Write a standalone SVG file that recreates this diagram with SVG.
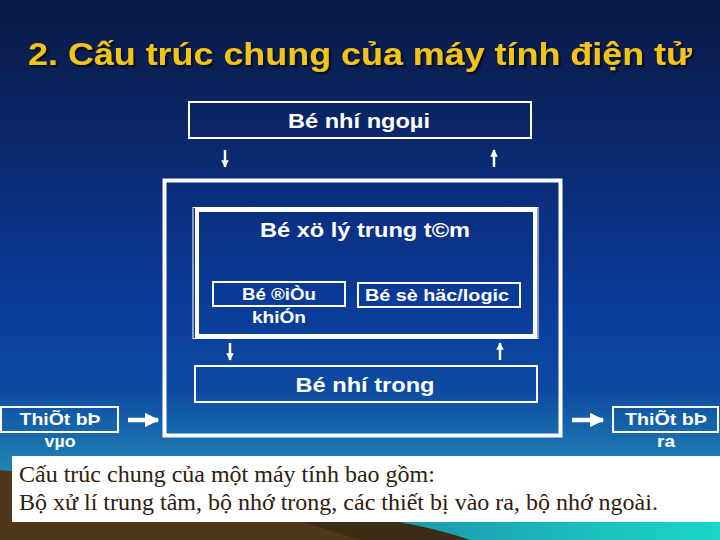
<svg xmlns="http://www.w3.org/2000/svg" width="720" height="540" viewBox="0 0 720 540">
<defs>
<linearGradient id="bg" x1="0" y1="0" x2="0" y2="1">
<stop offset="0" stop-color="#0a1a44"/>
<stop offset="0.3" stop-color="#0b2a72"/>
<stop offset="0.55" stop-color="#0a3a98"/>
<stop offset="0.72" stop-color="#0d4aa2"/>
<stop offset="0.82" stop-color="#1a6fae"/>
<stop offset="0.9" stop-color="#2590b5"/>
<stop offset="1" stop-color="#2aa8b8"/>
</linearGradient>
<linearGradient id="teal" x1="0" y1="0" x2="1" y2="0">
<stop offset="0" stop-color="#1c8aa8"/>
<stop offset="1" stop-color="#19d8c8"/>
</linearGradient>
<filter id="sh" x="-5%" y="-20%" width="110%" height="140%">
<feDropShadow dx="2" dy="2" stdDeviation="0.8" flood-color="#000" flood-opacity="0.7"/>
</filter>
<marker id="ah" viewBox="0 0 10 10" refX="9" refY="5" markerWidth="3" markerHeight="3" orient="auto">
<path d="M0,0 L10,5 L0,10 Z" fill="#fff"/>
</marker>
<marker id="ahs" viewBox="0 0 10 10" refX="9" refY="5" markerWidth="3.2" markerHeight="3.2" orient="auto">
<path d="M0,0 L10,5 L0,10 Z" fill="#fff"/>
</marker>
</defs>
<style>
.box{fill:none;stroke:#fff;stroke-width:2}
.lbl{font-family:"Liberation Sans",Arial,sans-serif;font-weight:bold;fill:#fff;text-anchor:middle}
.ln{stroke:#fff;stroke-width:2.5}
.bt{font-family:"Liberation Serif","Times New Roman",serif;font-size:24px;fill:#2e200c}
</style>
<rect width="720" height="540" fill="url(#bg)"/>
<path d="M330,522 L720,522 L720,540 L330,540 Z" fill="url(#teal)"/>
<path d="M0,470 Q120,480 250,505 Q320,520 360,540 L0,540 Z" fill="#4e3819"/>
<path d="M250,505 Q400,515 470,540 L360,540 Z" fill="#3d2c14"/>
<text x="360" y="65" font-family="'Liberation Sans',Arial,sans-serif" font-weight="bold" font-size="32" fill="#f2c417" text-anchor="middle" textLength="664" lengthAdjust="spacingAndGlyphs" filter="url(#sh)">2. Cấu trúc chung của máy tính điện tử</text>
<g id="outer">
<rect x="164.5" y="180.5" width="396" height="255" fill="none" stroke="#fff" stroke-width="4"/>
</g>
<g id="bo-nho-ngoai">
<rect class="box" x="189" y="102" width="342" height="36"/>
<text class="lbl" x="359" y="128" font-size="21" textLength="142" lengthAdjust="spacingAndGlyphs">Bé nhí ngoµi</text>
</g>
<g id="cpu">
<rect x="193" y="207.5" width="345" height="131" fill="none" stroke="#fff" stroke-width="1"/>
<rect x="197" y="210" width="338" height="126" fill="none" stroke="#fff" stroke-width="4"/>
<text class="lbl" x="365" y="237" font-size="21" textLength="210" lengthAdjust="spacingAndGlyphs">Bé xö lý trung t©m</text>
</g>
<g id="dieu-khien">
<rect class="box" x="213" y="282" width="132" height="24"/>
<text class="lbl" x="279" y="300" font-size="17" textLength="74" lengthAdjust="spacingAndGlyphs">Bé ®iÒu</text>
<text class="lbl" x="279" y="323" font-size="17" textLength="54" lengthAdjust="spacingAndGlyphs">khiÓn</text>
</g>
<g id="so-hoc">
<rect class="box" x="358" y="283" width="162" height="24"/>
<text class="lbl" x="437" y="301" font-size="17" textLength="144" lengthAdjust="spacingAndGlyphs">Bé sè häc/logic</text>
</g>
<g id="bo-nho-trong">
<rect class="box" x="195" y="366" width="342" height="36"/>
<text class="lbl" x="365" y="392" font-size="21" textLength="139" lengthAdjust="spacingAndGlyphs">Bé nhí trong</text>
</g>
<g id="vao">
<rect class="box" x="1" y="407" width="117" height="25"/>
<text class="lbl" x="60" y="425" font-size="17" textLength="81" lengthAdjust="spacingAndGlyphs">ThiÕt bÞ</text>
<text class="lbl" x="60" y="447" font-size="17" textLength="31" lengthAdjust="spacingAndGlyphs">vµo</text>
</g>
<g id="ra">
<rect class="box" x="613" y="407" width="105" height="25"/>
<text class="lbl" x="666" y="425" font-size="17" textLength="82" lengthAdjust="spacingAndGlyphs">ThiÕt bÞ</text>
<text class="lbl" x="666" y="447" font-size="17" textLength="18" lengthAdjust="spacingAndGlyphs">ra</text>
</g>
<g id="connectors">
<line class="ln" x1="225" y1="150" x2="225" y2="167" marker-end="url(#ah)"/>
<line class="ln" x1="494" y1="167" x2="494" y2="150" marker-end="url(#ah)"/>
<line class="ln" x1="230" y1="343" x2="230" y2="360" marker-end="url(#ah)"/>
<line class="ln" x1="500" y1="360" x2="500" y2="343" marker-end="url(#ah)"/>
<line x1="128" y1="420" x2="158" y2="420" stroke="#fff" stroke-width="4.5" marker-end="url(#ahs)"/>
<line x1="572" y1="420" x2="603" y2="420" stroke="#fff" stroke-width="4.5" marker-end="url(#ahs)"/>
</g>
<g id="note">
<rect x="12" y="456" width="708" height="66" fill="#fff"/>
<text class="bt" x="19" y="482">Cấu trúc chung của một máy tính bao gồm:</text>
<text class="bt" x="19" y="510">Bộ xử lí trung tâm, bộ nhớ trong, các thiết bị vào ra, bộ nhớ ngoài.</text>
</g>
</svg>
